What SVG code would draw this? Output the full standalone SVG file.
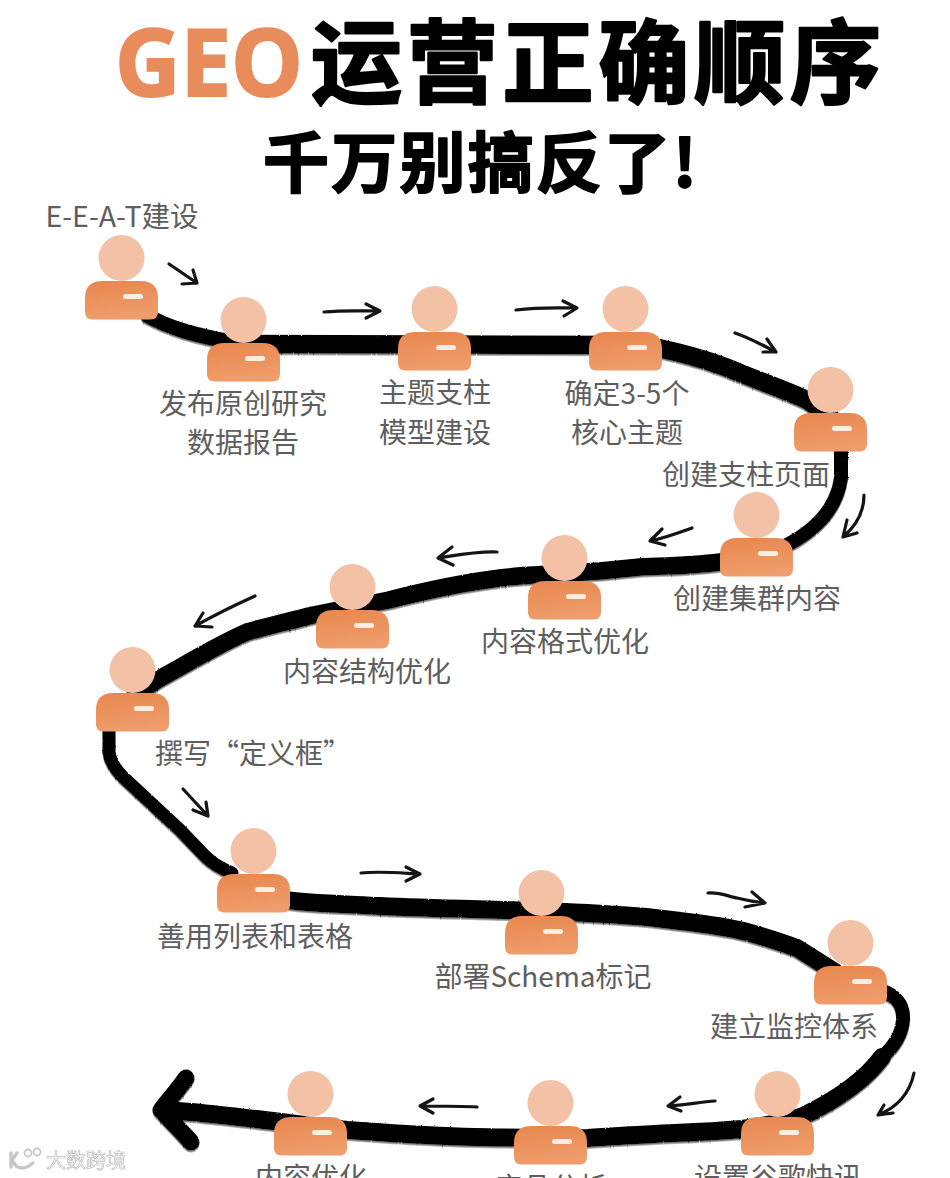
<svg xmlns="http://www.w3.org/2000/svg" width="950" height="1178" viewBox="0 0 950 1178">
<style>
.cjk{font-family:"Noto Sans CJK SC","Noto Sans",sans-serif}
.lab{font-size:28px;fill:#5e5e5e;text-anchor:middle;font-weight:400;transform:translateY(1px)}
.t{font-size:91px;font-weight:700;fill:#000;stroke:#000;stroke-width:2.500;stroke-linejoin:round}
.s{font-size:66px;font-weight:700;fill:#000;stroke:#000;stroke-width:1.800;stroke-linejoin:round}
.head{fill:#f2c1a6}
.badge{fill:#fdeee0}
.arr{fill:none;stroke:#141414;stroke-width:3.200;stroke-linecap:round;stroke-linejoin:round}
.m{fill:none;stroke:#000;stroke-linecap:round;stroke-linejoin:round}
</style>
<defs>
<linearGradient id="bg" x1="0.1" y1="0" x2="0.3" y2="1"><stop offset="0" stop-color="#e8874f"/><stop offset="1" stop-color="#ef9d6c"/></linearGradient>
<filter id="ink" x="-5%" y="-5%" width="110%" height="110%">
<feTurbulence type="fractalNoise" baseFrequency="0.6" numOctaves="2" seed="4" result="n"/>
<feDisplacementMap in="SourceGraphic" in2="n" scale="2" xChannelSelector="R" yChannelSelector="G" result="d"/>
<feDropShadow in="d" dx="0" dy="1.600" stdDeviation="0.400" flood-color="#777"/>
</filter>
<filter id="soft"><feGaussianBlur stdDeviation="0.500"/></filter>
<g id="p">
<path d="M-36.500 40 Q-36.500 23 -19 23 L19 23 Q36.500 23 36.500 40 L36.500 54 Q36.500 61.500 29 61.500 L-29 61.500 Q-36.500 61.500 -36.500 54 Z" fill="url(#bg)"/>
<circle class="head" r="23"/>
<rect class="badge" x="1.500" y="36" width="20" height="5" rx="2.500"/>
</g>
</defs>
<rect width="950" height="1178" fill="#fff"/>
<g id="title">
<text x="115" y="96" font-family="Open Sans,Liberation Sans,sans-serif" font-weight="700" font-size="93" fill="#e98c5b" stroke="#e98c5b" stroke-width="2" textLength="188" lengthAdjust="spacingAndGlyphs">GEO</text>
<text class="cjk t" x="311" y="96" textLength="570">运营正确顺序</text>
<text class="cjk s" x="263" y="187" textLength="434">千万别搞反了!</text>
</g>
<g id="connectors">
<g filter="url(#ink)">
<path class="m" stroke-width="15" d="M148 316 C170 328 195 336 243 344"/>
<path class="m" stroke-width="18.500" d="M243 344 L626 345 C645 345 655 347 663 349 C690 355 715 362 740 373 C765 383 790 392 807 400 L830 416"/>
<path class="m" stroke-width="14" d="M841 450 L841 478 C838 500 825 525 787 545"/>
<path class="m" stroke-width="17.500" d="M780 552 L720 562 C690 566 660 566 640 567 L600 571 C560 574 530 574 500 578 C460 583 420 592 389 600 L313 615 C290 621 265 627 247 632 C215 646 185 665 157 680 L135 695"/>
<path class="m" stroke-width="13" d="M109 728 L109 752 C110 762 118 772 123 777 L180 830 L205 856 Q215 866 232 873"/>
<path class="m" stroke-width="18" d="M280 899 C300 903 340 904 380 906 C420 908 470 909 505 910 C540 911 580 912 620 915 C640 916 660 918 680 921 C705 924 728 927 747 932 C765 937 780 942 797 948 L835 972"/>
<path class="m" stroke-width="14" d="M880 990 C895 995 904 1003 903 1020 C902 1032 896 1045 882 1057"/>
<path class="m" stroke-width="18" d="M882 1057 C865 1080 840 1098 803 1116 C785 1122 765 1126 742 1129 C720 1131 700 1132 675 1133 C650 1134 620 1136 588 1138 C560 1139 530 1138 475 1137 C430 1136 390 1133 347 1130 C320 1127 295 1124 273 1121 C245 1118 215 1114 190 1112 L165 1110"/>
<path class="m" stroke-width="17" d="M186 1078 C178 1090 170 1098 161 1110 C172 1122 182 1132 191 1142"/>
</g>
<path class="arr" d="M169 264 C178 270 188 277 197 283 M182 284 L197 283 L193 270"/>
<path class="arr" d="M324 312 C345 310 360 311 380 311 M366 304 L380 311 L366 318"/>
<path class="arr" d="M516 310 C540 307 555 308 577 308 M563 301 L577 308 L564 316"/>
<path class="arr" d="M735 333 C750 338 762 345 776 352 M767 339 L776 352 L763 352"/>
<path class="arr" d="M864 495 C864 512 856 526 843 537 M847 520 L843 537 L857 533"/>
<path class="arr" d="M692 528 C678 533 665 538 650 541 M662 529 L650 541 L665 545"/>
<path class="arr" d="M497 552 C478 551 458 555 438 558 M452 547 L438 558 L453 565"/>
<path class="arr" d="M255 596 C235 605 213 616 195 626 M203 613 L195 626 L212 627"/>
<path class="arr" d="M183 789 L208 816 M193 810 L208 816 L206 802"/>
<path class="arr" d="M361 873 C380 871 400 873 420 874 M406 867 L420 874 L406 881"/>
<path class="arr" d="M708 893 C720 892 730 897 737 898 C745 900 755 902 765 903 M752 892 L765 903 L745 907"/>
<path class="arr" d="M914 1073 C910 1092 898 1107 878 1115 M884 1105 L878 1115 L893 1113"/>
<path class="arr" d="M715 1101 C700 1102 685 1105 668 1106 M680 1097 L668 1106 L681 1111"/>
<path class="arr" d="M477 1107 C460 1106 440 1106 420 1106 M433 1099 L420 1106 L433 1113"/>
</g>
<g id="n1"><use href="#p" x="121.500" y="258"/><text class="cjk lab" x="122" y="226" style="font-size:28.500px">E-E-A-T建设</text></g>
<g id="n2"><use href="#p" x="243.500" y="320"/><text class="cjk lab" x="243" y="413">发布原创研究</text><text class="cjk lab" x="243" y="452">数据报告</text></g>
<g id="n3"><use href="#p" x="434.500" y="309"/><text class="cjk lab" x="435" y="402">主题支柱</text><text class="cjk lab" x="435" y="442">模型建设</text></g>
<g id="n4"><use href="#p" x="625.500" y="309"/><text class="cjk lab" x="627" y="403">确定3-5个</text><text class="cjk lab" x="627" y="442">核心主题</text></g>
<g id="n5"><use href="#p" x="830.500" y="390"/><text class="cjk lab" x="746" y="484">创建支柱页面</text></g>
<g id="n6"><use href="#p" x="756.500" y="515"/><text class="cjk lab" x="757" y="608">创建集群内容</text></g>
<g id="n7"><use href="#p" x="564.500" y="558"/><text class="cjk lab" x="565" y="651">内容格式优化</text></g>
<g id="n8"><use href="#p" x="352.500" y="587"/><text class="cjk lab" x="367" y="681">内容结构优化</text></g>
<g id="n9"><use href="#p" x="132.500" y="670"/><text class="cjk lab" x="253" y="763">撰写“定义框”</text></g>
<g id="n10"><use href="#p" x="253.500" y="851"/><text class="cjk lab" x="255" y="946">善用列表和表格</text></g>
<g id="n11"><use href="#p" x="541.500" y="893"/><text class="cjk lab" x="543" y="986">部署Schema标记</text></g>
<g id="n12"><use href="#p" x="850.500" y="943"/><text class="cjk lab" x="794" y="1036">建立监控体系</text></g>
<g id="n13"><use href="#p" x="777.500" y="1094"/><text class="cjk lab" x="778" y="1187">设置谷歌快讯</text></g>
<g id="n14"><use href="#p" x="550.500" y="1103"/><text class="cjk lab" x="551" y="1197">产品分析</text></g>
<g id="n15"><use href="#p" x="310.500" y="1094"/><text class="cjk lab" x="311" y="1187">内容优化</text></g>
<g id="watermark" filter="url(#soft)">
<path d="M11 1153 L11 1167 M17 1153 L12 1160 L16 1166 Q24 1171 33 1163" fill="none" stroke="#c8c8c8" stroke-width="3.500" stroke-linecap="round"/>
<circle cx="28" cy="1153" r="3.500" fill="none" stroke="#c8c8c8" stroke-width="1.800"/><circle cx="37" cy="1152" r="3.500" fill="none" stroke="#c8c8c8" stroke-width="1.800"/>
<text class="cjk" x="46" y="1168" font-size="20" fill="#fff" stroke="#bdbdbd" stroke-width="0.700">大数跨境</text>
</g>
</svg>
